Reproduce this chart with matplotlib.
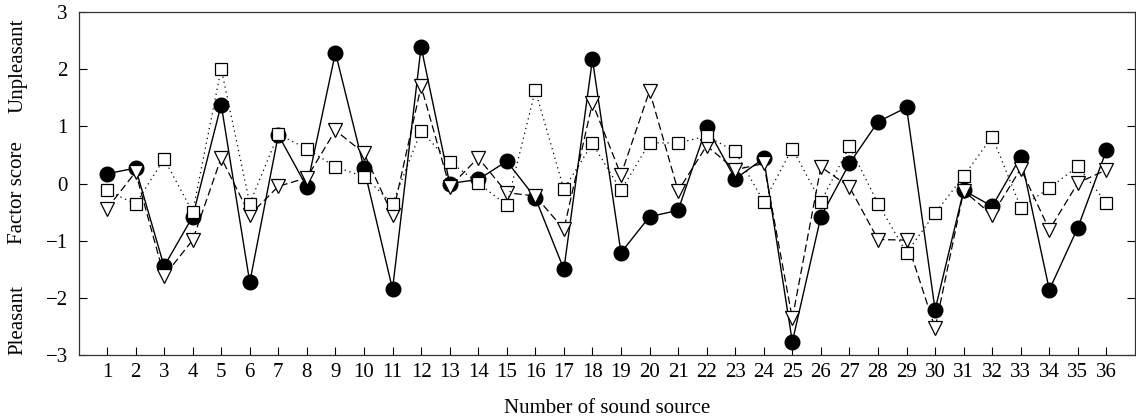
import numpy as np
import matplotlib.pyplot as plt

# ============================================================
# DATA
# ============================================================

sources = list(range(1, 37))

circles = [
    0.17, 0.27, -1.45, -0.58, 1.38, -1.73, 0.85, -0.06, 2.29, 0.27,
    -1.85, 2.39, 0.00, 0.07, 0.39, -0.25, -1.50, 2.17, -1.21, -0.58,
    -0.47, 0.99, 0.08, 0.44, -2.77, -0.58, 0.35, 1.08, 1.33, -2.21,
    -0.12, -0.40, 0.47, -1.86, -0.77, 0.58
]

squares = [
    -0.12, -0.36, 0.43, -0.50, 2.01, -0.35, 0.86, 0.61, 0.29, 0.12,
    -0.35, 0.92, 0.38, 0.01, -0.38, 1.63, -0.10, 0.70, -0.12, 0.71,
    0.71, 0.83, 0.56, -0.32, 0.61, -0.32, 0.65, -0.35, -1.21, -0.52,
    0.13, 0.82, -0.42, -0.08, 0.30, -0.34
]

triangles = [
    -0.44, 0.20, -1.62, -0.99, 0.45, -0.55, -0.05, 0.10, 0.93, 0.53,
    -0.55, 1.70, -0.06, 0.45, -0.16, -0.22, -0.80, 1.41, 0.15, 1.62,
    -0.13, 0.66, 0.24, 0.35, -2.36, 0.29, -0.06, -0.98, -0.99, -2.53,
    -0.13, -0.55, 0.26, -0.81, 0.01, 0.24
]

y_ticks = [-3, -2, -1, 0, 1, 2, 3]

# ============================================================
# PLOT
# ============================================================

plt.rcParams['font.family'] = ['Liberation Serif', 'DejaVu Serif']

FS = 15

fig = plt.figure(figsize=(11.36, 4.19), dpi=100)

ax = fig.add_axes([79 / 1136, 1 - 355 / 419, (1135 - 79) / 1136, (355 - 12) / 419])

ax.plot(
    sources, circles,
    color='black', linestyle='-', linewidth=1.0,
    marker='o', markersize=10.5,
    markerfacecolor='black', markeredgecolor='black',
    zorder=2
)

ax.plot(
    sources, triangles,
    color='black', linestyle=(0, (6, 3)), linewidth=0.9,
    marker='v', markersize=9.5,
    markerfacecolor='white', markeredgecolor='black', markeredgewidth=0.9,
    zorder=3
)

ax.plot(
    sources, squares,
    color='black', linestyle=(0, (1, 3)), linewidth=0.9,
    marker='s', markersize=9,
    markerfacecolor='white', markeredgecolor='black', markeredgewidth=0.9,
    zorder=4
)

ax.set_xlim(0.02, 37.0)
ax.set_ylim(-3, 3)

ax.set_xticks(sources)
ax.set_yticks(y_ticks)
ax.set_yticklabels([f"\u2212{abs(v)}" if v < 0 else str(v) for v in y_ticks])

ax.tick_params(axis='x', direction='in', length=6, width=0.8,
               labelsize=FS, pad=6)
ax.tick_params(axis='y', direction='in', length=6, width=0.8,
               labelsize=FS, right=True, pad=8)

for side in ['left', 'bottom', 'top', 'right']:
    ax.spines[side].set_linewidth(0.9)
    ax.spines[side].set_color('#333333')

ax.set_xlabel("Number of sound source", fontsize=FS, labelpad=12)

# y label in three parts
fig.text(18 / 1136, 1 - 66 / 419, "Unpleasant", rotation=90,
         ha='center', va='center', fontsize=FS)
fig.text(18 / 1136, 1 - 193 / 419, "Factor score", rotation=90,
         ha='center', va='center', fontsize=FS)
fig.text(18 / 1136, 1 - 320 / 419, "Pleasant", rotation=90,
         ha='center', va='center', fontsize=FS)

fig.savefig("out.png", dpi=100)
